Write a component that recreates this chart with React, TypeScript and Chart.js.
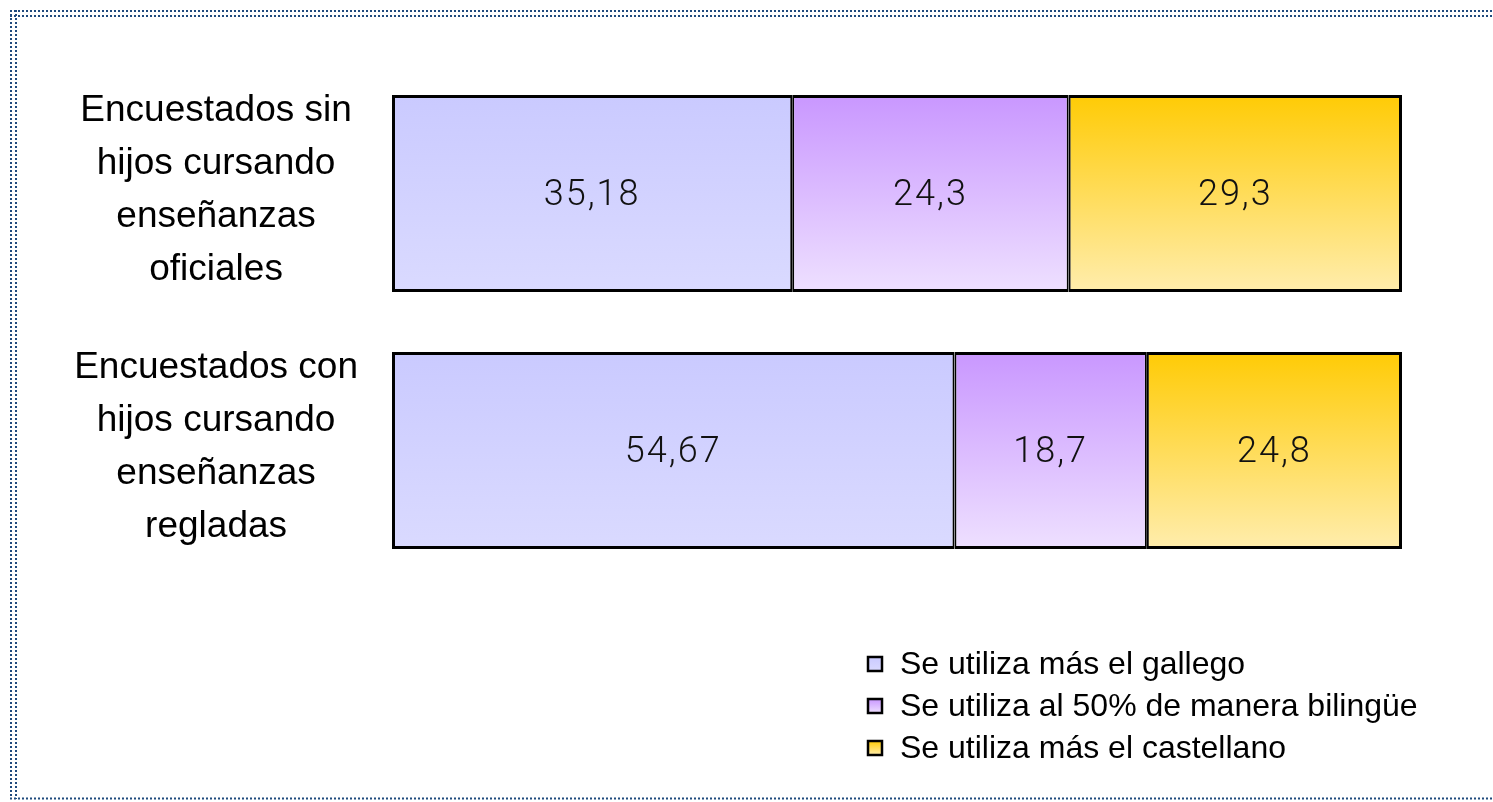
import React, { useEffect, useRef } from "react";
import { Chart, registerables } from "chart.js";

Chart.register(...registerables);

const categories: string[][] = [
  ["Encuestados sin", "hijos cursando", "enseñanzas", "oficiales"],
  ["Encuestados con", "hijos cursando", "enseñanzas", "regladas"],
];
const seriesNames = [
  "Se utiliza más el gallego",
  "Se utiliza al 50% de manera bilingüe",
  "Se utiliza más el castellano",
];
const gallego = [35.18, 54.67];
const bilingue = [24.3, 18.7];
const castellano = [29.3, 24.8];

const seriesValues = [gallego, bilingue, castellano];
const gradients: [string, string][] = [
  ["#CACAFF", "#DADAFF"],
  ["#C997FF", "#EEE0FF"],
  ["#FFCB05", "#FFEDAD"],
];
const BAR_PCT = 0.767;

const rowTotals = categories.map((_, i) =>
  seriesValues.reduce((s, arr) => s + arr[i], 0)
);

function fmt(v: number) {
  return String(v).replace(".", ",");
}

function makeGradient(ctx: any, stops: [string, string]) {
  const chart = ctx.chart;
  const area = chart.chartArea;
  const yScale = chart.scales && chart.scales.y;
  if (!area || !yScale || ctx.dataIndex === undefined) return stops[0];
  const center = yScale.getPixelForValue(ctx.dataIndex);
  const half = ((area.bottom - area.top) / categories.length) * BAR_PCT / 2;
  const g = chart.ctx.createLinearGradient(0, center - half, 0, center + half);
  g.addColorStop(0, stops[0]);
  g.addColorStop(1, stops[1]);
  return g;
}

const framePlugin = {
  id: "frame",
  beforeDraw(chart: any) {
    const c = chart.ctx;
    c.save();
    c.fillStyle = "#ffffff";
    c.fillRect(0, 0, chart.width, chart.height);
    c.strokeStyle = "#1F4A7D";
    c.lineWidth = 2;
    c.setLineDash([2, 2]);
    c.beginPath();
    [11, 16].forEach((y) => {
      c.moveTo(10, y);
      c.lineTo(chart.width, y);
    });
    [11, 16].forEach((x) => {
      c.moveTo(x, 10);
      c.lineTo(x, 799);
    });
    c.moveTo(10, 798.5);
    c.lineTo(chart.width, 798.5);
    c.stroke();
    c.restore();
  },
};

const valueLabelPlugin = {
  id: "valueLabels",
  afterDatasetsDraw(chart: any) {
    const c = chart.ctx;
    c.save();
    c.font = "300 36px Roboto";
    try { (c as any).letterSpacing = "2px"; } catch (e) {}
    c.fillStyle = "#111111";
    c.textAlign = "center";
    c.textBaseline = "middle";
    chart.data.datasets.forEach((ds: any, di: number) => {
      const meta = chart.getDatasetMeta(di);
      meta.data.forEach((el: any, i: number) => {
        const { x, y, base } = el.getProps(["x", "y", "base"], true);
        c.fillText(fmt(ds.rawValues[i]), (x + base) / 2, y + 2);
      });
    });
    try { (c as any).letterSpacing = "0px"; } catch (e) {}
    c.restore();
  },
};

const legendPlugin = {
  id: "customLegend",
  afterDraw(chart: any) {
    const c = chart.ctx;
    const x0 = 868;
    const rows = [664, 706, 748];
    c.save();
    c.font = "32px 'Liberation Sans'";
    c.textBaseline = "middle";
    c.textAlign = "left";
    chart.data.datasets.forEach((ds: any, di: number) => {
      const yc = rows[di];
      const g = c.createLinearGradient(0, yc - 7, 0, yc + 7);
      g.addColorStop(0, gradients[di][0]);
      g.addColorStop(1, gradients[di][1]);
      c.fillStyle = g;
      c.fillRect(x0, yc - 7, 14, 14);
      c.strokeStyle = "#000";
      c.lineWidth = 2.5;
      c.strokeRect(x0, yc - 7, 14, 14);
      c.fillStyle = "#000";
      c.fillText(ds.label, x0 + 32, yc + 1);
    });
    c.restore();
  },
};

export default function App() {
  const canvasRef = useRef<HTMLCanvasElement | null>(null);

  useEffect(() => {
    if (!canvasRef.current) return;
    const borderFor = (i: number) => ({
      top: 3,
      bottom: 3,
      left: i === 0 ? 3 : 2,
      right: i === seriesValues.length - 1 ? 3 : 2,
    });
    const chart = new Chart(canvasRef.current, {
      type: "bar",
      data: {
        labels: categories,
        datasets: seriesValues.map((vals, si) => ({
          label: seriesNames[si],
          data: vals.map((v, i) => (v / rowTotals[i]) * 100),
          rawValues: vals,
          backgroundColor: (ctx: any) => makeGradient(ctx, gradients[si]),
          borderColor: "#000000",
          borderWidth: borderFor(si),
          borderSkipped: false,
          barPercentage: BAR_PCT,
          categoryPercentage: 1,
        })) as any,
      },
      options: {
        indexAxis: "y",
        responsive: false,
        animation: false,
        layout: { padding: { left: 0, top: 65, right: 91, bottom: 223 } },
        plugins: {
          legend: { display: false },
          tooltip: { enabled: false },
        },
        scales: {
          x: {
            stacked: true,
            display: false,
            min: 0,
            max: 100,
          },
          y: {
            stacked: true,
            grid: { display: false, drawTicks: false },
            border: { display: false },
            ticks: {
              color: "#000000",
              crossAlign: "center",
              padding: 34,
              labelOffset: -3,
              font: { family: "'Liberation Sans'", size: 37, lineHeight: 1.43 },
            },
            afterFit: (scale: any) => {
              scale.width = 392;
              scale.paddingTop = 0;
              scale.paddingBottom = 0;
            },
          },
        },
      } as any,
      plugins: [framePlugin, valueLabelPlugin, legendPlugin],
    });
    return () => chart.destroy();
  }, []);

  return (
    <div style={{ position: "fixed", left: 0, top: 0, width: 1493, height: 802, background: "#fff" }}>
      <canvas ref={canvasRef} width={1493} height={802} style={{ width: 1493, height: 802, display: "block" }} />
    </div>
  );
}
